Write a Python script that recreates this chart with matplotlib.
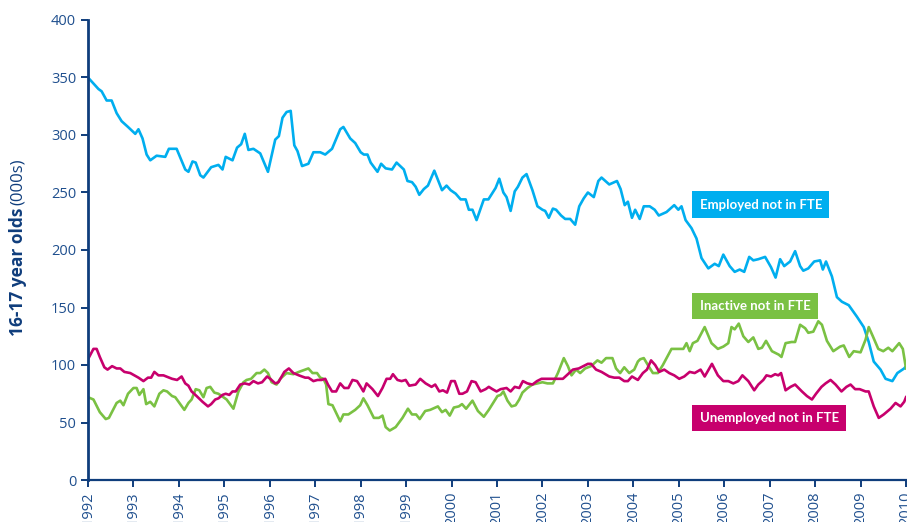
import numpy as np
import matplotlib
matplotlib.use("Agg")
import matplotlib.pyplot as plt

# values (thousands), time in fractional years
emp_t = [1992.0, 1992.23, 1992.30, 1992.41, 1992.52, 1992.63, 1992.74, 1992.88, 1993.04, 1993.11,
         1993.2, 1993.29, 1993.37, 1993.51, 1993.7, 1993.78, 1993.95, 1994.14, 1994.21, 1994.3,
         1994.37, 1994.47, 1994.54, 1994.71, 1994.87, 1994.96, 1995.03, 1995.18, 1995.28, 1995.37,
         1995.45, 1995.53, 1995.64, 1995.79, 1995.96, 1996.12, 1996.2, 1996.28, 1996.37, 1996.46,
         1996.54, 1996.61, 1996.71, 1996.85, 1996.96, 1997.11, 1997.22, 1997.37, 1997.55, 1997.62,
         1997.77, 1997.88, 1998.0, 1998.07, 1998.15, 1998.22, 1998.37, 1998.45, 1998.55, 1998.69,
         1998.79, 1998.95, 1999.03, 1999.13, 1999.21, 1999.29, 1999.39, 1999.48, 1999.62, 1999.79,
         1999.89, 1999.98, 2000.09, 2000.2, 2000.31, 2000.38, 2000.46, 2000.55, 2000.71, 2000.81,
         2000.97, 2001.05, 2001.14, 2001.21, 2001.3, 2001.39, 2001.46, 2001.56, 2001.65, 2001.78,
         2001.89, 2002.0, 2002.06, 2002.14, 2002.23, 2002.3, 2002.41, 2002.5, 2002.61, 2002.72,
         2002.81, 2002.91, 2003.0, 2003.13, 2003.23, 2003.3, 2003.47, 2003.64, 2003.72, 2003.81,
         2003.88, 2003.97, 2004.04, 2004.14, 2004.23, 2004.36, 2004.47, 2004.56, 2004.73, 2004.9,
         2004.99, 2005.06, 2005.15, 2005.28, 2005.39, 2005.5, 2005.65, 2005.79, 2005.88, 2005.98,
         2006.12, 2006.23, 2006.34, 2006.44, 2006.55, 2006.64, 2006.75, 2006.9, 2007.03, 2007.13,
         2007.23, 2007.32, 2007.45, 2007.56, 2007.67, 2007.74, 2007.85, 2007.98, 2008.11, 2008.17,
         2008.24, 2008.37, 2008.48, 2008.59, 2008.74, 2008.92, 2009.07, 2009.18, 2009.29, 2009.44,
         2009.55, 2009.7, 2009.81, 2009.96, 2010.0]
emp_v = [350, 340, 338, 330, 330, 319, 312, 307, 301, 305,
         297, 283, 278, 282, 281, 288, 288, 270, 268, 277,
         276, 265, 263, 272, 274, 270, 281, 278, 289, 292,
         301, 287, 288, 284, 268, 296, 299, 315, 320, 321,
         291, 286, 273, 275, 285, 285, 283, 288, 305, 307,
         297, 293, 285, 283, 283, 276, 268, 275, 271, 270,
         276, 270, 260, 259, 255, 248, 253, 256, 269, 252,
         256, 252, 249, 244, 244, 235, 235, 226, 244, 244,
         254, 262, 250, 246, 234, 251, 255, 263, 266, 252,
         238, 235, 234, 228, 236, 235, 230, 227, 227, 222,
         238, 245, 250, 246, 260, 263, 257, 260, 253, 239,
         242, 228, 235, 227, 238, 238, 235, 230, 233, 239,
         235, 238, 226, 219, 210, 193, 184, 188, 186, 196,
         186, 181, 183, 181, 194, 191, 192, 194, 185, 176,
         192, 186, 190, 199, 186, 182, 184, 190, 191, 183,
         190, 177, 159, 155, 152, 142, 133, 120, 103, 96,
         88, 86, 93, 97, 99]

ina_t = [1992.0, 1992.12, 1992.26, 1992.39, 1992.46, 1992.63, 1992.71, 1992.78, 1992.88, 1993.0,
         1993.07, 1993.13, 1993.22, 1993.28, 1993.37, 1993.46, 1993.57, 1993.66, 1993.74, 1993.85,
         1993.92, 1994.01, 1994.12, 1994.21, 1994.28, 1994.37, 1994.45, 1994.54, 1994.61, 1994.69,
         1994.78, 1994.87, 1994.98, 1995.05, 1995.2, 1995.31, 1995.42, 1995.49, 1995.59, 1995.71,
         1995.79, 1995.88, 1995.96, 1996.04, 1996.15, 1996.23, 1996.37, 1996.52, 1996.64, 1996.78,
         1996.85, 1996.94, 1997.04, 1997.11, 1997.18, 1997.24, 1997.29, 1997.38, 1997.55, 1997.62,
         1997.73, 1997.88, 1997.99, 1998.06, 1998.15, 1998.29, 1998.4, 1998.48, 1998.55, 1998.64,
         1998.77, 1998.92, 1999.04, 1999.13, 1999.22, 1999.3, 1999.42, 1999.53, 1999.7, 1999.79,
         1999.87, 1999.96, 2000.05, 2000.16, 2000.23, 2000.32, 2000.46, 2000.58, 2000.71, 2000.82,
         2000.93, 2001.01, 2001.08, 2001.14, 2001.23, 2001.32, 2001.41, 2001.49, 2001.56, 2001.67,
         2001.78, 2001.89, 2002.0, 2002.11, 2002.23, 2002.34, 2002.41, 2002.47, 2002.56, 2002.64,
         2002.74, 2002.83, 2002.94, 2003.07, 2003.21, 2003.3, 2003.4, 2003.54, 2003.62, 2003.71,
         2003.8, 2003.91, 2004.02, 2004.1, 2004.15, 2004.23, 2004.32, 2004.43, 2004.54, 2004.65,
         2004.84, 2004.95, 2005.1, 2005.17, 2005.24, 2005.31, 2005.41, 2005.57, 2005.72, 2005.86,
         2005.98, 2006.09, 2006.16, 2006.23, 2006.32, 2006.42, 2006.53, 2006.64, 2006.75, 2006.83,
         2006.92, 2007.05, 2007.2, 2007.26, 2007.35, 2007.48, 2007.56, 2007.67, 2007.78, 2007.85,
         2007.96, 2008.07, 2008.15, 2008.26, 2008.4, 2008.55, 2008.63, 2008.75, 2008.85, 2009.0,
         2009.11, 2009.18, 2009.27, 2009.39, 2009.5, 2009.61, 2009.7, 2009.85, 2009.93, 2010.0]
ina_v = [72, 70, 59, 53, 54, 67, 69, 65, 75, 80,
         80, 74, 79, 66, 68, 64, 75, 78, 77, 73,
         72, 67, 61, 67, 70, 79, 78, 72, 80, 81,
         76, 75, 72, 70, 62, 77, 85, 87, 88, 93,
         93, 96, 93, 85, 83, 88, 93, 92, 94, 96,
         97, 93, 93, 89, 88, 83, 66, 65, 51, 57,
         57, 61, 65, 71, 65, 54, 54, 56, 46, 43,
         46, 54, 62, 57, 57, 53, 60, 61, 64, 59,
         61, 56, 63, 64, 66, 62, 69, 60, 55, 61,
         68, 73, 74, 77, 69, 64, 65, 70, 76, 80,
         83, 84, 85, 84, 84, 93, 100, 106, 99, 91,
         96, 93, 97, 99, 104, 102, 106, 106, 97, 93,
         98, 93, 96, 103, 105, 106, 100, 93, 93, 100,
         114, 114, 114, 119, 112, 119, 121, 133, 119, 114,
         116, 119, 133, 131, 136, 125, 120, 124, 114, 115,
         121, 112, 109, 107, 119, 120, 120, 135, 132, 128,
         129, 138, 135, 121, 112, 116, 117, 107, 112, 111,
         122, 133, 125, 114, 112, 115, 112, 119, 114, 97]

une_t = [1992.0, 1992.12, 1992.19, 1992.26, 1992.36, 1992.43, 1992.53, 1992.63, 1992.71, 1992.8,
         1992.93, 1993.02, 1993.11, 1993.22, 1993.32, 1993.39, 1993.46, 1993.55, 1993.66, 1993.85,
         1993.96, 1994.06, 1994.14, 1994.21, 1994.28, 1994.39, 1994.52, 1994.64, 1994.71, 1994.8,
         1994.87, 1994.96, 1995.03, 1995.11, 1995.18, 1995.25, 1995.35, 1995.45, 1995.55, 1995.64,
         1995.74, 1995.83, 1995.94, 1996.01, 1996.12, 1996.19, 1996.32, 1996.42, 1996.52, 1996.64,
         1996.78, 1996.85, 1996.96, 1997.05, 1997.14, 1997.22, 1997.28, 1997.37, 1997.46, 1997.55,
         1997.64, 1997.73, 1997.82, 1997.92, 1998.0, 1998.06, 1998.13, 1998.26, 1998.38, 1998.48,
         1998.57, 1998.65, 1998.71, 1998.81, 1998.9, 1998.99, 1999.07, 1999.21, 1999.31, 1999.43,
         1999.56, 1999.64, 1999.73, 1999.81, 1999.9, 1999.99, 2000.07, 2000.17, 2000.24, 2000.34,
         2000.44, 2000.53, 2000.64, 2000.75, 2000.82, 2000.9, 2000.99, 2001.08, 2001.21, 2001.3,
         2001.39, 2001.49, 2001.57, 2001.67, 2001.78, 2001.88, 2001.98, 2002.09, 2002.2, 2002.34,
         2002.45, 2002.56, 2002.67, 2002.8, 2002.9, 2003.0, 2003.07, 2003.18, 2003.3, 2003.47,
         2003.58, 2003.69, 2003.8, 2003.88, 2003.97, 2004.1, 2004.21, 2004.3, 2004.39, 2004.48,
         2004.57, 2004.68, 2004.79, 2004.9, 2005.01, 2005.12, 2005.24, 2005.35, 2005.48, 2005.57,
         2005.73, 2005.86, 2005.98, 2006.09, 2006.2, 2006.31, 2006.4, 2006.53, 2006.66, 2006.75,
         2006.86, 2006.93, 2007.03, 2007.12, 2007.19, 2007.25, 2007.35, 2007.46, 2007.56, 2007.71,
         2007.82, 2007.93, 2008.02, 2008.14, 2008.23, 2008.34, 2008.45, 2008.58, 2008.69, 2008.78,
         2008.88, 2008.98, 2009.11, 2009.18, 2009.29, 2009.4, 2009.51, 2009.66, 2009.77, 2009.88,
         2009.96, 2010.0]
une_v = [105, 114, 114, 107, 98, 96, 99, 97, 97, 94,
         93, 91, 89, 86, 89, 89, 94, 91, 91, 88,
         87, 90, 84, 82, 77, 73, 68, 64, 66, 70,
         71, 74, 75, 74, 77, 77, 83, 84, 83, 86,
         84, 85, 90, 88, 84, 85, 94, 97, 93, 91,
         89, 89, 86, 87, 87, 88, 83, 77, 77, 84,
         80, 80, 87, 86, 81, 77, 84, 79, 73, 80,
         88, 88, 92, 87, 86, 87, 82, 83, 88, 84,
         81, 83, 77, 78, 76, 86, 86, 75, 75, 77,
         86, 85, 77, 79, 81, 79, 77, 79, 80, 77,
         81, 80, 86, 84, 83, 86, 88, 88, 88, 88,
         88, 92, 96, 97, 99, 101, 101, 96, 94, 90,
         89, 89, 86, 86, 90, 87, 93, 96, 104, 100,
         94, 96, 93, 91, 88, 90, 94, 93, 96, 90,
         101, 91, 86, 86, 84, 86, 91, 86, 78, 83,
         87, 91, 90, 92, 91, 93, 78, 81, 83, 77,
         73, 70, 75, 81, 84, 87, 83, 77, 81, 83,
         79, 79, 77, 77, 64, 54, 57, 62, 67, 64,
         68, 72]

years = list(range(1992, 2011))

navy = "#0f3d7c"
tick_col = "#1f4f8e"
c_emp = "#00aeef"
c_ina = "#7ac143"
c_une = "#c7006d"

fig = plt.figure(figsize=(9.07, 5.22), dpi=100)
ax = fig.add_axes([88 / 907, 1 - 480 / 522, 818 / 907, 460 / 522])

ax.plot(emp_t, emp_v, color=c_emp, lw=1.9, solid_joinstyle="round")
ax.plot(ina_t, ina_v, color=c_ina, lw=1.9, solid_joinstyle="round")
ax.plot(une_t, une_v, color=c_une, lw=1.9, solid_joinstyle="round")

ax.set_xlim(1992, 2010)
ax.set_ylim(0, 400)
ax.set_yticks(np.arange(0, 401, 50))
ax.set_xticks(years)
ax.set_xticklabels([str(y) for y in years], rotation=90, va="top")

for s in ["top", "right"]:
    ax.spines[s].set_visible(False)
ax.spines["left"].set_color(navy)
ax.spines["left"].set_linewidth(2.0)
ax.spines["bottom"].set_color(navy)
ax.spines["bottom"].set_linewidth(1.6)
ax.tick_params(axis="both", direction="out", length=5, width=1.4, color=navy,
               labelcolor=tick_col, labelsize=10.5)
ax.tick_params(axis="x", pad=3)
for lab in ax.get_xticklabels() + ax.get_yticklabels():
    lab.set_family("Open Sans")

# y axis title: bold part, then the normal part right after it
t1 = fig.text(18 / 907, 1 - 336 / 522, "16-17 year olds", rotation=90, ha="center", va="bottom",
              fontsize=12.5, fontweight="bold", color=navy, family="Open Sans")
fig.canvas.draw()
bb = t1.get_window_extent()
fig.text(18 / 907, (bb.y1 + 3) / fig.bbox.height, "(000s)", rotation=90, ha="center", va="bottom",
         fontsize=12, color=navy, family="Open Sans")

# series labels
box_labels = [("Employed not in FTE", c_emp, 239.5),
              ("Inactive not in FTE", c_ina, 151.5),
              ("Unemployed not in FTE", c_une, 54)]
for txt, col, yv in box_labels:
    ax.text(2005.46, yv, txt, color="white", fontsize=9.5, fontweight="bold", family="Lato",
            ha="left", va="center",
            bbox=dict(boxstyle="square,pad=0.55", fc=col, ec="none"))

fig.savefig("out.png", dpi=100)
